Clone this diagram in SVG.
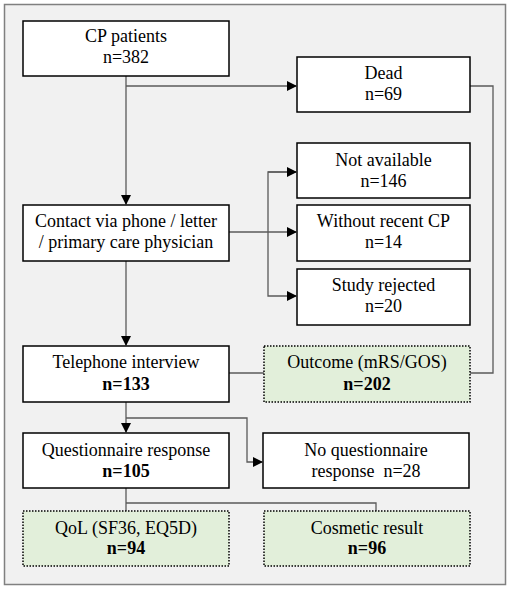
<svg xmlns="http://www.w3.org/2000/svg" width="510" height="589" viewBox="0 0 510 589">
<defs>
<marker id="arr" markerWidth="10" markerHeight="10" refX="9" refY="5" orient="auto" markerUnits="userSpaceOnUse">
<path d="M0,0 L10,5 L0,10 Z" fill="#000"/>
</marker>
<style>
.box{fill:#fff;stroke:#000;stroke-width:1.5}
.gbox{fill:#e2efda;stroke:#000;stroke-width:1.5;stroke-dasharray:1.5 1.5}
text{font-family:'Liberation Serif','DejaVu Serif',serif;font-size:18px;text-anchor:middle;fill:#000}
.b{font-weight:bold}
.c{fill:none;stroke:#5a5a5a;stroke-width:1.3}
</style>
</defs>
<rect x="4.5" y="4.5" width="501" height="580" fill="#f1f1f1" stroke="#808080" stroke-width="1.5"/>
<g id="connectors">
<path class="c" d="M126,76 V204" marker-end="url(#arr)"/>
<path class="c" d="M126,86 H296" marker-end="url(#arr)"/>
<path class="c" d="M470,86 H493 V373 H470"/>
<path class="c" d="M229,232 H296" marker-end="url(#arr)"/>
<path class="c" d="M296,172 H268 V296 H296" marker-end="url(#arr)"/>
<path class="c" d="M268,172 H296" marker-end="url(#arr)"/>
<path class="c" d="M126,261 V345" marker-end="url(#arr)"/>
<path class="c" d="M229,373 H264"/>
<path class="c" d="M126,402 V432" marker-end="url(#arr)"/>
<path class="c" d="M126,418 H247 V462 H262" marker-end="url(#arr)"/>
<path class="c" d="M126,488 V511"/>
<path class="c" d="M126,503 H376 V511"/>
</g>
<g id="cp"><rect class="box" x="23" y="21" width="206" height="55"/>
<text x="126" y="42">CP patients</text><text x="126" y="63">n=382</text></g>
<g id="dead"><rect class="box" x="297" y="57" width="173" height="55"/>
<text x="383.5" y="79">Dead</text><text x="383.5" y="100">n=69</text></g>
<g id="notavail"><rect class="box" x="297" y="143" width="173" height="55"/>
<text x="383.5" y="166">Not available</text><text x="383.5" y="187">n=146</text></g>
<g id="contact"><rect class="box" x="23" y="205" width="206" height="56"/>
<text x="126" y="227">Contact via phone / letter</text><text x="126" y="248">/ primary care physician</text></g>
<g id="without"><rect class="box" x="297" y="205" width="173" height="56"/>
<text x="383.5" y="227">Without recent CP</text><text x="383.5" y="248">n=14</text></g>
<g id="rejected"><rect class="box" x="297" y="269" width="173" height="56"/>
<text x="383.5" y="291">Study rejected</text><text x="383.5" y="312">n=20</text></g>
<g id="telephone"><rect class="box" x="23" y="346" width="206" height="56"/>
<text x="126" y="368">Telephone interview</text><text class="b" x="126" y="390">n=133</text></g>
<g id="outcome"><rect class="gbox" x="264" y="346" width="206" height="56"/>
<text x="367" y="368">Outcome (mRS/GOS)</text><text class="b" x="367" y="390">n=202</text></g>
<g id="questionnaire"><rect class="box" x="23" y="433" width="206" height="55"/>
<text x="126" y="456">Questionnaire response</text><text class="b" x="126" y="477">n=105</text></g>
<g id="noquest"><rect class="box" x="263" y="433" width="206" height="55"/>
<text x="366" y="456">No questionnaire</text><text x="366" y="477" xml:space="preserve">response  n=28</text></g>
<g id="qol"><rect class="gbox" x="23" y="511" width="206" height="55"/>
<text x="126" y="534">QoL (SF36, EQ5D)</text><text class="b" x="126" y="554">n=94</text></g>
<g id="cosmetic"><rect class="gbox" x="264" y="511" width="206" height="55"/>
<text x="367" y="534">Cosmetic result</text><text class="b" x="367" y="554">n=96</text></g>
</svg>
